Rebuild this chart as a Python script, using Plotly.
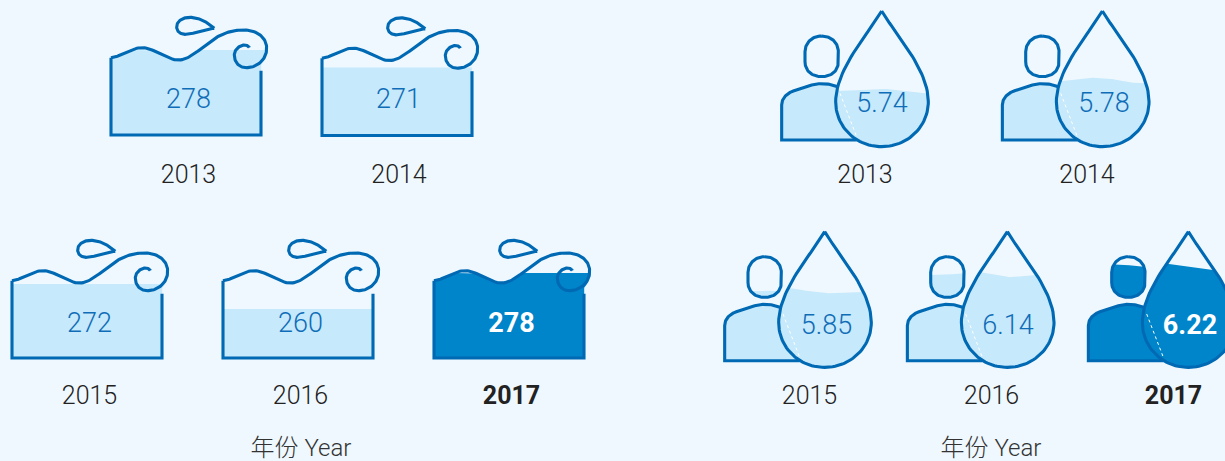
import numpy as np
import plotly.graph_objects as go

# ---------- data ----------
tank_years = ["2013", "2014", "2015", "2016", "2017"]
tank_values = [278, 271, 272, 260, 278]
tank_fill_share = [1.10, 0.88, 0.957, 0.634, 1.10]   # water height / tank wall height

person_years = ["2013", "2014", "2015", "2016", "2017"]
person_values = [5.74, 5.78, 5.85, 6.14, 6.22]
axis_label = "年份 Year"

# water surface in the drop and in the head (icon units; None = head is empty)
drop_surface = [
    [(180, 258), (250, 255), (320, 250), (380, 258), (460, 266)],
    [(180, 230), (290, 218), (350, 222), (400, 233), (460, 235)],
    [(180, 180), (230, 190), (320, 203), (420, 198), (460, 195)],
    [(180, 130), (262, 143), (320, 155), (385, 150), (460, 140)],
    [(180, 105), (283, 117), (378, 130), (460, 140)],
]
head_surface = [
    None,
    None,
    [(85, 197), (140, 195), (195, 197)],
    [(85, 148), (140, 147), (195, 142)],
    [(85, 116), (115, 117), (195, 122)],
]

# ---------- placement and style ----------
tank_origin = [(100, 5), (311, 5.5), (1, 228), (212, 228), (423, 228)]
person_origin = [(775, 5), (995.7, 5), (718, 225.7), (900.7, 225.7), (1081.7, 225.7)]
tank_value_xy = [(188.5, 101), (398.5, 101), (89.5, 325), (300.5, 325), (511.5, 325)]
tank_year_xy = [(188.5, 177), (399, 177), (89.5, 398), (300.5, 398), (511.5, 398)]
person_value_xy = [(882, 105.5), (1104, 105.5), (826.5, 327.5), (1008, 327.5), (1190, 327.5)]
person_year_xy = [(865, 177), (1087, 177), (809.5, 398), (991.5, 398), (1173.5, 398)]
axis_label_xy = [(301, 449.5), (991, 449.5)]

BG = "#EFF8FE"
LIGHT = "#C6E9FB"
DARK = "#0085CB"
LINE = "#0069B4"
VALUE = "#0F6DB8"
TEXT = "#222222"
FONT = "Roboto"
CJK = "Roboto, 'Noto Sans CJK SC'"
LW = 3.1


def bez(*segs, n=30):
    """Sample a chain of cubic segments given as p0, c1, c2, p1, c1, c2, p2 ..."""
    p = np.array(segs, float)
    out = [p[:1]]
    for i in range(0, len(p) - 1, 3):
        t = np.linspace(0, 1, n)[1:, None]
        a, b, c, d = p[i:i + 4]
        out.append((1 - t) ** 3 * a + 3 * (1 - t) ** 2 * t * b + 3 * (1 - t) * t ** 2 * c + t ** 3 * d)
    return np.vstack(out)


WAVE_TOP = bez((33, 158), (65, 155), (90, 128), (125, 128), (165, 128), (195, 165), (235, 165),
               (270, 165), (300, 130), (345, 100), (380, 78), (410, 75), (430, 75),
               (475, 75), (500, 100), (500, 130))
CURL = bez((500, 130), (500, 165), (470, 188), (440, 188),
           (415, 188), (403, 170), (403, 150), (403, 130), (425, 118), (437, 120),
           (443, 121), (447, 125), (448, 128))
WAVE = np.vstack([WAVE_TOP, CURL[1:]])
SPRAY = bez((343, 70), (315, 45), (290, 37), (270, 37), (245, 37), (230, 50), (230, 66),
            (230, 80), (242, 88), (255, 88), (285, 88), (310, 70), (343, 70))
WALL = np.array([(33, 158), (33, 390), (483, 390), (483, 197)], float)
TANK_BODY = np.vstack([WAVE_TOP,
                       bez((500, 130), (500, 155), (492, 172), (483, 180))[1:],
                       [(483, 390), (33, 390)]])

DROP = bez((320, 18), (355, 80), (460, 190), (460, 290), (460, 365), (398, 425), (320, 425),
           (242, 425), (182, 365), (182, 290), (182, 190), (285, 80), (320, 18))
HEAD = np.vstack([bez((140, 93), (170, 93), (190, 115), (190, 140)),
                  bez((190, 170), (190, 197), (170, 215), (140, 215),
                      (110, 215), (90, 197), (90, 170)),
                  bez((90, 140), (90, 115), (110, 93), (140, 93))])
BODY_LINE = np.vstack([[(245, 405), (20, 405)],
                       bez((20, 300), (20, 280), (35, 265), (55, 258)),
                       bez((110, 240), (135, 233), (165, 235), (188, 246))])
BODY = np.vstack([BODY_LINE, [(195, 265), (245, 405)]])
SEAM = np.array([(195, 265), (245, 395)], float)


def column_fill(outline, surface=None, n=400):
    """Region of a closed outline that lies below a surface line."""
    pts = np.vstack([outline, outline[:1]])
    xs = np.linspace(pts[:, 0].min() + 0.01, pts[:, 0].max() - 0.01, n)
    upper, lower = [], []
    sx, sy = (None, None) if surface is None else zip(*surface)
    for x in xs:
        a, b = pts[:-1], pts[1:]
        hit = (a[:, 0] - x) * (b[:, 0] - x) <= 0
        hit &= a[:, 0] != b[:, 0]
        if not hit.any():
            continue
        ys = a[hit, 1] + (x - a[hit, 0]) * (b[hit, 1] - a[hit, 1]) / (b[hit, 0] - a[hit, 0])
        top, bot = ys.min(), ys.max()
        if surface is not None:
            top = max(top, np.interp(x, sx, sy))
        if top < bot:
            upper.append((x, top))
            lower.append((x, bot))
    return np.array(upper + lower[::-1] + upper[:1])


fig = go.Figure()


def area(local, origin, color):
    fig.add_trace(go.Scatter(x=local[:, 0] / 3 + origin[0], y=local[:, 1] / 3 + origin[1],
                             mode="lines", fill="toself", fillcolor=color,
                             line=dict(width=0), hoverinfo="skip", showlegend=False))


def stroke(local, origin, width=LW, color=LINE, dash=None):
    fig.add_trace(go.Scatter(x=local[:, 0] / 3 + origin[0], y=local[:, 1] / 3 + origin[1],
                             mode="lines", line=dict(color=color, width=width, dash=dash),
                             hoverinfo="skip", showlegend=False))


def labels(xy, texts, color, size, bold=False, family=FONT):
    for (x, y), t in zip(xy, texts):
        fig.add_trace(go.Scatter(x=[x], y=[y], mode="text", text=[t], textposition="middle center",
                                 textfont=dict(family=family, size=size, color=color,
                                               weight=700 if bold else 300),
                                 hoverinfo="skip", showlegend=False))


# left panel: tanks
for i, (org, share) in enumerate(zip(tank_origin, tank_fill_share)):
    colour = DARK if i == 4 else LIGHT
    level = 390 - share * (390 - 158)
    area(column_fill(TANK_BODY, [(0, level), (600, level)]), org, colour)
    stroke(WAVE, org)
    stroke(SPRAY, org)
    stroke(WALL, org)

# right panel: person and drop
for i, org in enumerate(person_origin):
    colour = DARK if i == 4 else LIGHT
    area(column_fill(BODY), org, colour)
    if head_surface[i]:
        area(column_fill(HEAD, head_surface[i]), org, colour)
    area(column_fill(DROP, drop_surface[i]), org, colour)
    stroke(SEAM, org, width=1, color="#FFFFFF", dash="dot")
    stroke(BODY_LINE, org)
    stroke(HEAD, org)
    stroke(DROP, org)

labels(tank_value_xy[:4], [str(v) for v in tank_values[:4]], VALUE, 27)
labels(tank_value_xy[4:], [str(v) for v in tank_values[4:]], "#FFFFFF", 27, bold=True)
labels(tank_year_xy[:4], tank_years[:4], TEXT, 25)
labels(tank_year_xy[4:], tank_years[4:], TEXT, 25, bold=True)
labels(person_value_xy[:4], [f"{v:.2f}" for v in person_values[:4]], VALUE, 27)
labels(person_value_xy[4:], [f"{v:.2f}" for v in person_values[4:]], "#FFFFFF", 27, bold=True)
labels(person_year_xy[:4], person_years[:4], TEXT, 25)
labels(person_year_xy[4:], person_years[4:], TEXT, 25, bold=True)
labels(axis_label_xy, [axis_label, axis_label], "#333333", 24, family=CJK)

fig.update_layout(width=1225, height=461, margin=dict(l=0, r=0, t=0, b=0),
                  paper_bgcolor=BG, plot_bgcolor=BG, showlegend=False,
                  xaxis=dict(range=[0, 1225], visible=False, fixedrange=True),
                  yaxis=dict(range=[461, 0], visible=False, fixedrange=True))

fig.write_html("out.html", config=dict(displayModeBar=False),
               post_script="document.body.style.margin='0';document.body.style.background='%s';" % BG)
